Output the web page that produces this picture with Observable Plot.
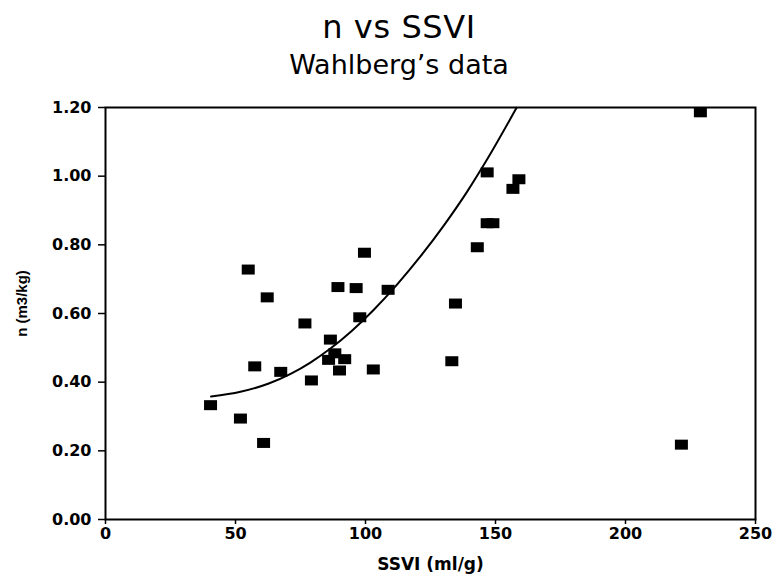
<!DOCTYPE html>
<html>
<head>
<meta charset="utf-8">
<script src="https://cdn.jsdelivr.net/npm/d3@7"></script>
<script src="https://cdn.jsdelivr.net/npm/@observablehq/plot@0.6"></script>
<style>
  html, body { margin: 0; padding: 0; background: white; }
  #wrap { width: 776px; height: 580px; position: relative; overflow: hidden; font-family: "DejaVu Sans", sans-serif; color: black; }
  #head { position: relative; width: 776px; height: 95px; }
  #title { position: absolute; left: 11px; width: 776px; top: 10.6px; text-align: center; font-size: 32px; line-height: 32px; letter-spacing: 0.6px; }
  #subtitle { position: absolute; left: 11px; width: 776px; top: 51px; text-align: center; font-size: 27px; line-height: 27px; }
  #chart svg { display: block; }
</style>
</head>
<body>
<div id="wrap">
  <div id="head">
    <div id="title">n vs SSVI</div>
    <div id="subtitle">Wahlberg’s data</div>
  </div>
  <div id="chart"></div>
</div>
<script>
const ssvi = [40.4, 51.9, 54.9, 57.4, 60.8, 62.2, 67.4, 76.7, 79.2, 86.5, 85.8, 88.2, 92.0, 90.0, 89.4, 96.4, 97.8, 99.6, 103.0, 108.7, 133.2, 134.6, 143.0, 146.8, 149.0, 146.8, 156.7, 159.0, 221.5, 228.8];
const nValues = [0.333, 0.294, 0.728, 0.446, 0.223, 0.647, 0.430, 0.571, 0.405, 0.524, 0.465, 0.484, 0.467, 0.434, 0.677, 0.674, 0.589, 0.777, 0.437, 0.669, 0.461, 0.629, 0.793, 0.863, 0.863, 1.011, 0.963, 0.991, 0.218, 1.186];

// Fitted curve
const fitSsvi = [40.6, 51.9, 62.8, 71.2, 78.8, 86.5, 94.8, 103.2, 112.2, 121.2, 130.1, 139.1, 146.8, 158.1];
const fitN = [0.358, 0.372, 0.396, 0.424, 0.457, 0.498, 0.550, 0.611, 0.685, 0.767, 0.856, 0.955, 1.049, 1.199];

// Tick labels
const xTicks = [0, 50, 100, 150, 200, 250];
const yTicks = [0, 0.2, 0.4, 0.6, 0.8, 1.0, 1.2];

const points = ssvi.map((x, i) => ({x, y: nValues[i]}));
const curve = fitSsvi.map((x, i) => ({x, y: fitN[i]}));

const rectSymbol = {
  draw(context) { context.rect(-6.5, -5, 13, 10); }
};

const chart = Plot.plot({
  width: 776,
  height: 485,
  marginTop: 12,
  marginBottom: 61,
  marginLeft: 105,
  marginRight: 21,
  x: {domain: [0, 250]},
  y: {domain: [0, 1.2]},
  style: {fontFamily: "DejaVu Sans", fontSize: "16px", color: "black", background: "white"},
  marks: [
    Plot.axisX({ticks: xTicks, tickSize: 5, tickPadding: 3, strokeWidth: 1.5, label: null, fontSize: 16, fontWeight: "bold"}),
    Plot.axisX({ticks: [], label: "SSVI (ml/g)", labelAnchor: "center", labelArrow: "none", labelOffset: 50, fontSize: 17, fontWeight: "bold"}),
    Plot.axisY({ticks: yTicks, tickFormat: d3.format(".2f"), tickSize: 7, tickPadding: 7, strokeWidth: 1.5, label: null, fontSize: 16, fontWeight: "bold"}),
    Plot.text(["n (m3/kg)"], {frameAnchor: "left", text: d => d, rotate: -90, dx: -83, dy: -10, textAnchor: "middle", lineAnchor: "middle", fontSize: 15, fontWeight: "bold", fontFamily: "Liberation Sans", fill: "black"}),
    Plot.frame({stroke: "black", strokeWidth: 2}),
    Plot.line(curve, {x: "x", y: "y", stroke: "black", strokeWidth: 2, curve: "monotone-x"}),
    Plot.dot(points, {x: "x", y: "y", symbol: rectSymbol, r: 6, fill: "black", stroke: "none"})
  ]
});
document.getElementById("chart").appendChild(chart);
</script>
</body>
</html>
